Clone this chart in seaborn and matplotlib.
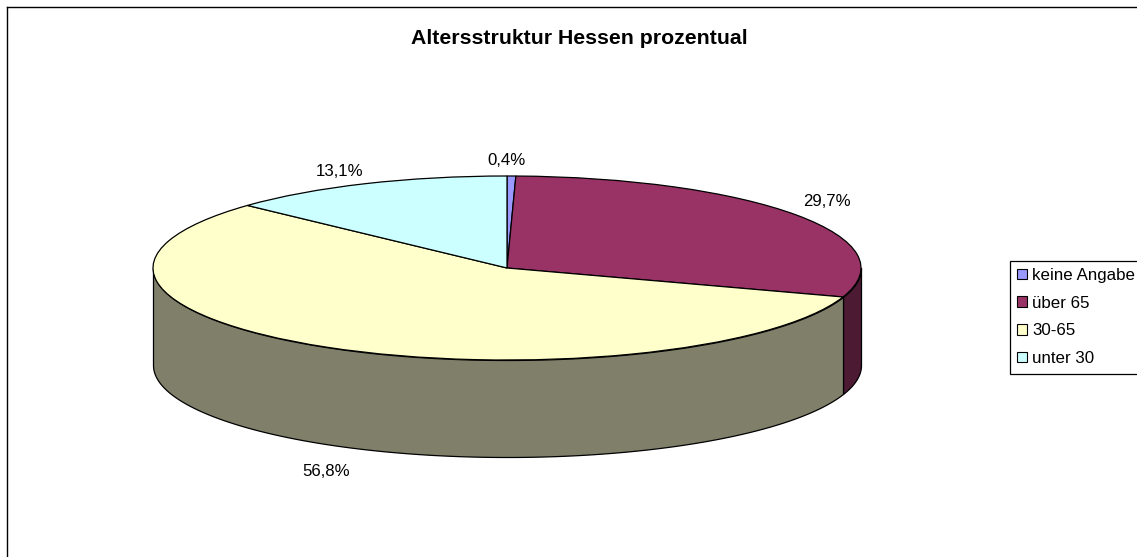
import matplotlib
matplotlib.use("Agg")
import matplotlib.pyplot as plt
from matplotlib.patches import Patch
import numpy as np
import seaborn as sns

labels = ["keine Angabe", "über 65", "30-65", "unter 30"]
values = [0.4, 29.7, 56.8, 13.1]
value_labels = ["0,4%", "29,7%", "56,8%", "13,1%"]
top_colors = ["#9999FF", "#993366", "#FFFFCC", "#CCFFFF"]
side_colors = ["#4C4C80", "#4D1A33", "#80806A", "#668080"]
title = "Altersstruktur Hessen prozentual"

W, H = 1137, 557
CX, CY, RX, RY, DEPTH = 507, 268, 354, 92, 97

sns.set_theme(style="white")
plt.rcParams["font.family"] = ["Liberation Sans", "DejaVu Sans"]
top_palette = sns.color_palette(top_colors)
side_palette = sns.color_palette(side_colors)

fig = plt.figure(figsize=(W / 100, H / 100), dpi=100, facecolor="white")
# axes run past the right and bottom edge, only the left and top frame lines show
L, R, T, B = 7, W + 10, 7, H + 10
ax = fig.add_axes([L / W, 1 - B / H, (R - L) / W, (B - T) / H])

ax.pie(values, colors=top_palette, startangle=90, counterclock=False,
       wedgeprops={"edgecolor": "black", "linewidth": 0.9, "zorder": 3}, frame=True)
ax.set_aspect("auto")
ax.set_xlim((L - CX) / RX, (R - CX) / RX)
ax.set_ylim((CY - B) / RY, (CY - T) / RY)
ax.set_xticks([])
ax.set_yticks([])
for s in ax.spines.values():
    s.set_color("black")
    s.set_linewidth(1.0)

# side wall, only the front half of the disc is visible
edges = np.cumsum([0] + values) * 3.6
for i in range(len(values)):
    a = max(edges[i], 90)
    b = min(edges[i + 1], 270)
    if a >= b:
        continue
    th = np.radians(np.linspace(a, b, 200))
    x = np.sin(th)
    y = np.cos(th)
    ax.fill_between(x, y - DEPTH / RY, y, facecolor=side_palette[i],
                    edgecolor="black", linewidth=0.9, zorder=2)


def px_text(x, y, s, **kw):
    fig.text(x / W, 1 - y / H, s, ha="center", va="center", color="black", **kw)


px_text(579, 39, title, fontsize=15.3, fontweight="bold")
label_pos = [(506, 161), (827, 202), (326, 471), (340, 171)]
for (x, y), s in zip(label_pos, value_labels):
    px_text(x, y, s, fontsize=12.1)

handles = [Patch(facecolor=c, edgecolor="black", linewidth=0.8) for c in top_palette]
ax.legend(handles, labels, loc="upper left", bbox_to_anchor=(1010 / W, 1 - 260.5 / H),
          bbox_transform=fig.transFigure, borderaxespad=0, fontsize=12.2, frameon=True,
          fancybox=False, edgecolor="black", framealpha=1, handlelength=0.58,
          handleheight=0.58, handletextpad=0.28, labelspacing=0.75, borderpad=0.44,
          labelcolor="black")
ax.get_legend().get_frame().set_linewidth(0.9)

fig.savefig("out.png", dpi=100)
plt.close(fig)
